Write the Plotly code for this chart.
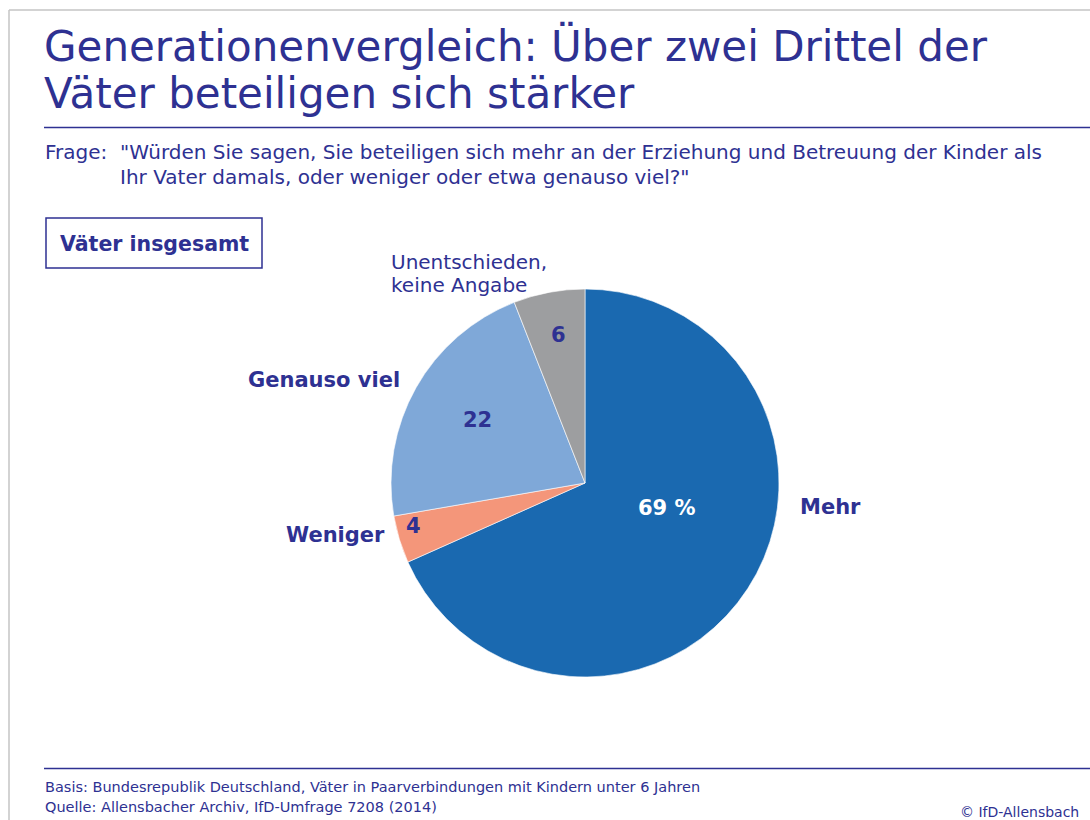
import plotly.graph_objects as go

W, H = 1090, 820

# Data
categories = ["Mehr", "Weniger", "Genauso viel", "Unentschieden, keine Angabe"]
values = [69, 4, 22, 6]
colors = ["#1a69b0", "#f4967a", "#7fa8d8", "#9d9ea0"]

NAVY = "#2e3192"
FONT = "DejaVu Sans"


def px(x):
    return x / W


def py(y):
    return 1 - y / H


fig = go.Figure()

# pie: centre (585, 483), radius ~194 px
cx, cy, r = 585, 483, 194
fig.add_trace(go.Pie(
    labels=categories,
    values=values,
    marker=dict(colors=colors, line=dict(color="white", width=0.6)),
    sort=False,
    direction="clockwise",
    rotation=0,
    textinfo="none",
    hoverinfo="label+value",
    showlegend=False,
    domain=dict(x=[px(cx - r), px(cx + r)], y=[py(cy + r), py(cy - r)]),
))

annotations = []


def text(x, y, s, size, color=NAVY, bold=False, xanchor="left", yanchor="middle"):
    if bold:
        s = "<b>" + s + "</b>"
    annotations.append(dict(
        x=px(x), y=py(y), xref="paper", yref="paper", text=s, showarrow=False,
        xanchor=xanchor, yanchor=yanchor, align="left",
        font=dict(family=FONT, size=size, color=color),
    ))


# title
text(42, 46, "Generationenvergleich: Über zwei Drittel der", 42)
text(42, 94, "Väter beteiligen sich stärker", 42)

# question
text(43, 152, 'Frage:  "Würden Sie sagen, Sie beteiligen sich mehr an der Erziehung und Betreuung der Kinder als', 20)
text(118, 177, 'Ihr Vater damals, oder weniger oder etwa genauso viel?"', 20)

# box label
text(154, 244, "Väter insgesamt", 20.5, bold=True, xanchor="center")

# slice labels
text(798, 507, categories[0], 21, bold=True)
text(387, 535, categories[1], 21, bold=True, xanchor="right")
text(402, 380, categories[2], 21, bold=True, xanchor="right")
text(389, 262, "Unentschieden,", 20)
text(389, 285, "keine Angabe", 20)

# values inside slices
text(667, 508, f"{values[0]} %", 21, color="white", bold=True, xanchor="center")
text(413, 526, f"{values[1]}", 21, bold=True, xanchor="center")
text(477, 420, f"{values[2]}", 21, bold=True, xanchor="center")
text(558, 335, f"{values[3]}", 21, bold=True, xanchor="center")

# footer
text(43, 787, "Basis: Bundesrepublik Deutschland, Väter in Paarverbindungen mit Kindern unter 6 Jahren", 14.5)
text(43, 807, "Quelle: Allensbacher Archiv, IfD-Umfrage 7208 (2014)", 14.5)
text(1081, 812, "© IfD-Allensbach", 14, xanchor="right")

shapes = [
    # frame
    dict(type="line", x0=px(9), x1=px(9), y0=0, y1=py(10), line=dict(color="#c4c4c4", width=1.5)),
    dict(type="line", x0=px(9), x1=1, y0=py(10), y1=py(10), line=dict(color="#c4c4c4", width=1.5)),
    # rules
    dict(type="line", x0=px(44), x1=1, y0=py(127.5), y1=py(127.5), line=dict(color=NAVY, width=1.5)),
    dict(type="line", x0=px(44), x1=1, y0=py(768.5), y1=py(768.5), line=dict(color=NAVY, width=1.5)),
    # box
    dict(type="rect", x0=px(46), x1=px(262), y0=py(268), y1=py(218), line=dict(color=NAVY, width=1.5)),
]

fig.update_layout(
    width=W, height=H,
    margin=dict(l=0, r=0, t=0, b=0),
    paper_bgcolor="white",
    plot_bgcolor="white",
    annotations=annotations,
    shapes=shapes,
)

fig.write_html("out.html", config={"displayModeBar": False},
               post_script="document.body.style.margin='0';")
